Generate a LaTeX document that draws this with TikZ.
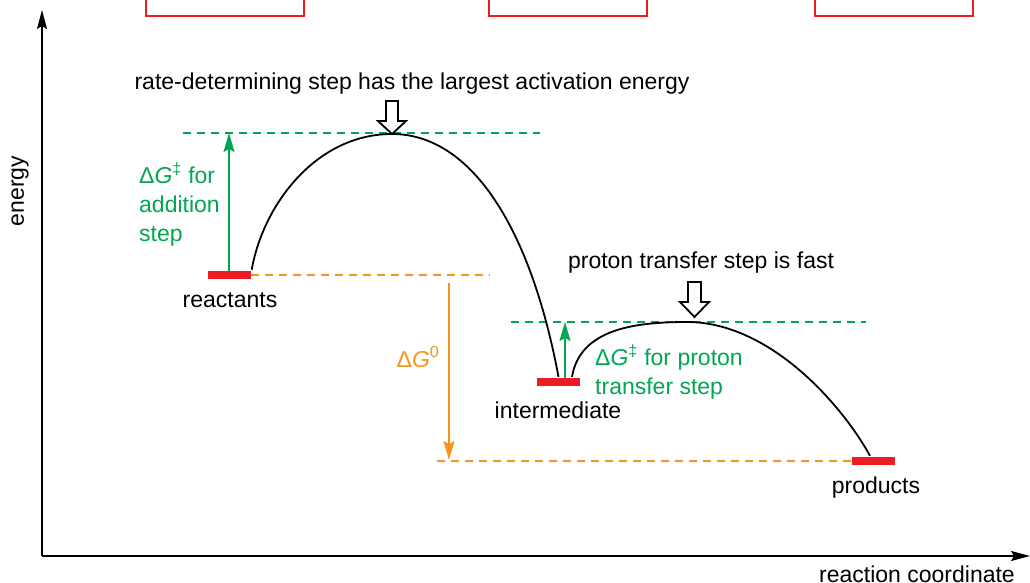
\documentclass[tikz,border=0pt]{standalone}
\usepackage{fontspec}
\setmainfont{Liberation Sans}
\usetikzlibrary{arrows.meta}
\definecolor{eg}{RGB}{0,166,81}
\definecolor{eo}{RGB}{247,148,29}
\definecolor{er}{RGB}{237,28,36}
\begin{document}
\begin{tikzpicture}[x=1pt,y=-1pt,
 lbl/.style={font=\fontsize{23}{29}\selectfont, inner sep=0pt},
 bar/.style={fill=er, minimum width=43pt, minimum height=8pt, inner sep=0pt},
 lvl/.style={line width=1.6pt, dash pattern=on 8pt off 6pt},
 curve/.style={line width=1.8pt},
 ax/.style={line width=1.4pt, -{Stealth[length=19pt,width=10pt,inset=3pt]}},
 garrow/.style={line width=1.5pt, -{Stealth[length=19pt,width=11pt,inset=3pt]}},
 hollow/.style={draw=black, fill=white, line width=1.8pt, line join=miter},
 box/.style={draw=er, line width=1.8pt}]
\useasboundingbox (0,0) rectangle (1030,583);

% red boxes at top
\draw[box] (146,-3) -- (146,16) -- (304,16) -- (304,-3);
\draw[box] (489,-3) -- (489,16) -- (647,16) -- (647,-3);
\draw[box] (815,-3) -- (815,16) -- (973,16) -- (973,-3);

% axes
\coordinate (O) at (42,556);
\coordinate (Ytop) at (42,10);
\coordinate (Xend) at (1030,556);
\draw[ax] (O) -- (Ytop);
\draw[ax] (O) -- (Xend);
\node[lbl, rotate=90] (energy) at (20,191) {energy};
\node[lbl, anchor=base] (rc) at (917,582) {reaction coordinate};

% levels
\node[bar] (R) at (229,275) {};
\node[bar] (I) at (558.5,382) {};
\node[bar] (P) at (873.5,461) {};
\node[lbl] (Rl) at (230,300) {reactants};
\node[lbl] (Il) at (558,410) {intermediate};
\node[lbl] (Pl) at (876,488) {products};

% transition states
\coordinate (TS1) at (392,134);
\coordinate (TS2) at (687,322);

% dashed reference lines
\coordinate (g1a) at (183,133);
\coordinate (g1b) at (540,133);
\coordinate (o1b) at (490,275);
\coordinate (o2a) at (437,461);
\coordinate (g2a) at (511,322);
\coordinate (g2b) at (866,322);
\draw[lvl, eg] (g1a) -- (g1b);
\draw[lvl, eo] (R.east) -- (o1b);
\draw[lvl, eo] (o2a) -- (P.west);
\draw[lvl, eg] (g2a) -- (g2b);

% energy curves
\draw[curve] ([xshift=1pt,yshift=1pt]R.north east) .. controls (263,205) and (316,134) .. (TS1)
  .. controls (470,134) and (530,225) .. ([yshift=1pt]I.north);
\draw[curve] ([xshift=13.5pt,yshift=1pt]I.north) .. controls (580,330) and (632,322) .. (TS2)
  .. controls (770,322) and (842,405) .. ([xshift=-3.5pt,yshift=1pt]P.north);

% green activation arrows
\draw[garrow, eg] (R.north) -- (R.north |- g1a);
\coordinate (ia) at ([xshift=6.5pt]I.north);
\draw[garrow, eg] (ia) -- (ia |- g2a);

% orange Delta G0 arrow
\coordinate (oa) at (449,283);
\coordinate (ob) at (449,460);
\draw[garrow, eo] (oa) -- (ob);

% labels
\node[lbl, eg, anchor=west, align=left] (dg1) at (139,205)
  {Δ\textit{G}\textsuperscript{‡} for\\addition\\step};
\node[lbl, eg, anchor=west, align=left] (dg2) at (595,372)
  {Δ\textit{G}\textsuperscript{‡} for proton\\transfer step};
\node[lbl, eo] (dg0) at (418,357) {Δ\textit{G}\textsuperscript{0}};
\node[lbl] (t1) at (412,84) {rate-determining step has the largest activation energy};
\node[lbl] (t2) at (701,263) {proton transfer step is fast};

% hollow pointer arrows
\draw[hollow] (386,101) -- (398,101) -- (398,121) -- (406,121) -- (TS1) -- (378,121) -- (386,121) -- cycle;
\draw[hollow] (688,282) -- (701,282) -- (701,302) -- (709,302) -- (694.5,317) -- (680,302) -- (688,302) -- cycle;
\end{tikzpicture}
\end{document}
